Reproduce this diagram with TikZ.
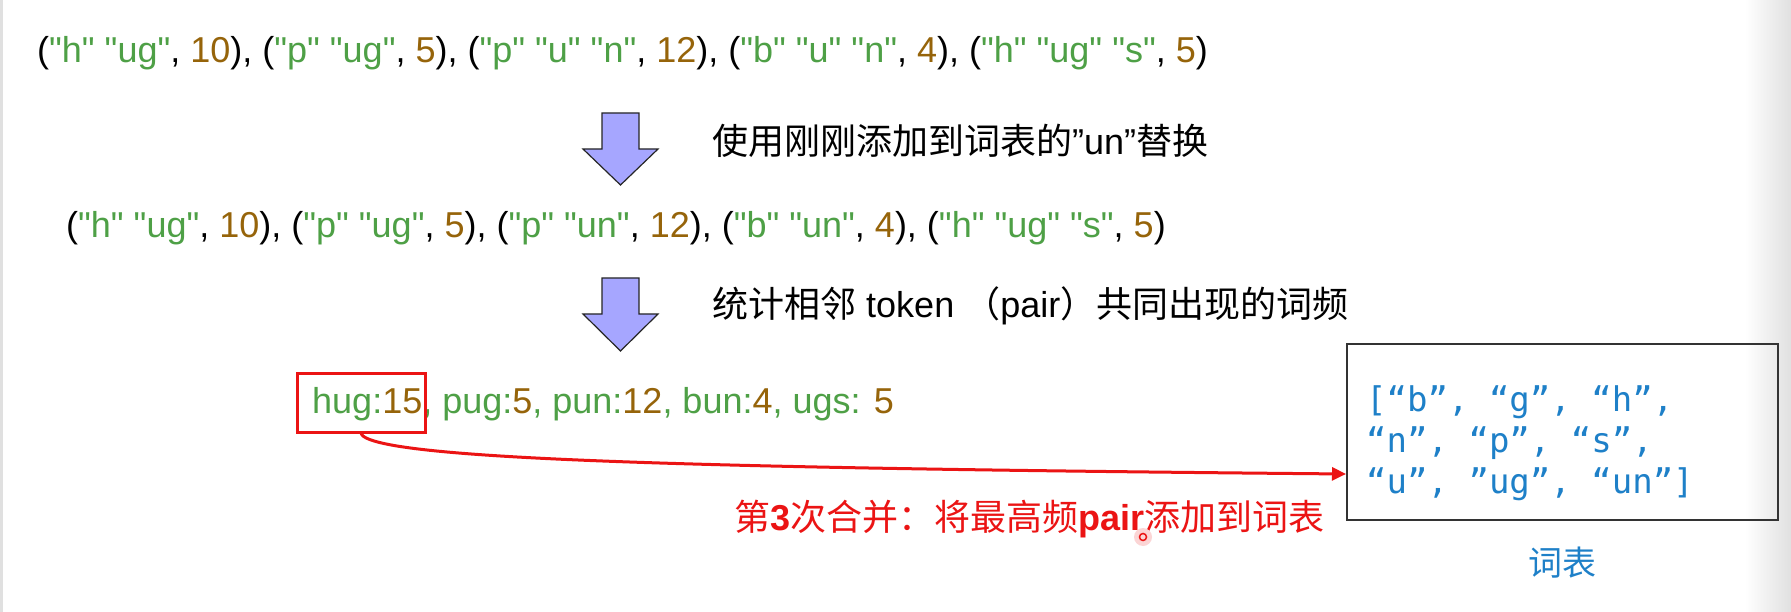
\documentclass[tikz,border=0pt]{standalone}
\usepackage{fontspec}
\setmainfont{Liberation Sans}[Ligatures=TeXOff]
\newfontfamily\cjk{Noto Sans CJK SC}
\newfontfamily\vmono{DejaVu Sans Mono}
\usetikzlibrary{arrows.meta}
\definecolor{tokgreen}{RGB}{78,160,70}
\definecolor{tokbrown}{RGB}{150,100,10}
\definecolor{hlred}{RGB}{235,20,20}
\definecolor{vocblue}{RGB}{30,128,200}
\definecolor{arrfill}{RGB}{166,166,255}
\newcommand\grn[1]{\textcolor{tokgreen}{#1}}
\newcommand\brn[1]{\textcolor{tokbrown}{#1}}
\begin{document}
\begin{tikzpicture}[x=1pt,y=-1pt,
  txt/.style={inner sep=0pt, anchor=base west, font=\fontsize{36pt}{40pt}\selectfont},
  blockarrow/.style={fill=arrfill, draw=black!85, line width=1.2pt, line join=miter},
  hugbox/.style={draw=hlred, line width=3pt, inner sep=0pt},
  vocabbox/.style={draw=black!80, line width=2pt, inner sep=0pt},
  vtext/.style={inner sep=0pt, anchor=base west, text=vocblue, font=\vmono\fontsize{34pt}{40pt}\selectfont},
  mergearrow/.style={draw=hlred, line width=3pt, -{Triangle[length=14pt,width=13pt]}},
]
\fill[white] (0,0) rectangle (1791,612);
\path[use as bounding box] (0,0) rectangle (1791,612);
\fill[black!12] (0,0) rectangle (3,612);
\shade[left color=white, right color=black!12] (1745,0) rectangle (1791,612);

% line 1
\node[txt] (l1) at (37,63) {(\grn{"h" "ug"}, \brn{10}), (\grn{"p" "ug"}, \brn{5}), (\grn{"p" "u" "n"}, \brn{12}), (\grn{"b" "u" "n"}, \brn{4}), (\grn{"h" "ug" "s"}, \brn{5})};

% arrow 1
\path[blockarrow] (602,113) -- (639,113) -- (639,149) -- (658,149) -- (620.5,185) -- (583,149) -- (602,149) -- cycle;
\node[txt] (t1) at (712,155) {{\cjk 使用刚刚添加到词表的}”un”{\cjk 替换}};

% line 2
\node[txt] (l2) at (66,238) {(\grn{"h" "ug"}, \brn{10}), (\grn{"p" "ug"}, \brn{5}), (\grn{"p" "un"}, \brn{12}), (\grn{"b" "un"}, \brn{4}), (\grn{"h" "ug" "s"}, \brn{5})};

% arrow 2
\path[blockarrow] (602,278) -- (639,278) -- (639,314) -- (658,314) -- (620.5,351) -- (583,314) -- (602,314) -- cycle;
\node[txt] (t2) at (712,317) {{\cjk 统计相邻} token {\cjk （}pair{\cjk ）共同出现的词频}};

% line 3
\node[txt] (l3) at (312,413) {\grn{hug:}\brn{15}\grn{, pug:}\brn{5}\grn{, pun:}\brn{12}\grn{, bun:}\brn{4}\grn{, ugs: }\brn{5}};
\node[hugbox, minimum width=128pt, minimum height=59pt] (hug) at (361,402.5) {};

% vocab box
\node[vocabbox, minimum width=431pt, minimum height=176pt] (vocab) at (1562.5,432) {};
\node[vtext] (v1) at (1366,411) {[“b”, “g”, “h”,};
\node[vtext] (v2) at (1366,452) {“n”, “p”, “s”,};
\node[vtext] (v3) at (1366,493) {“u”, ”ug”, “un”]};
\node[txt, anchor=base, text=vocblue, font=\cjk\fontsize{34pt}{40pt}\selectfont] (vlabel) at (1562.5,575) {词表};

% merge arrow
\coordinate (vrow) at (1300,474);
\draw[mergearrow] (hug.south) .. controls (372,460) and (700,468) .. (vocab.west |- vrow);
\node[txt, text=hlred] (mergetxt) at (734,530) {{\cjk 第}\textbf{3}{\cjk 次合并：将最高频}\textbf{pair}{\cjk 添加到词表}};

% pointer mark
\fill[hlred!18] (1143,537) circle (9);
\draw[hlred, line width=1.5pt] (1143,537) circle (3.5);
\end{tikzpicture}
\end{document}
